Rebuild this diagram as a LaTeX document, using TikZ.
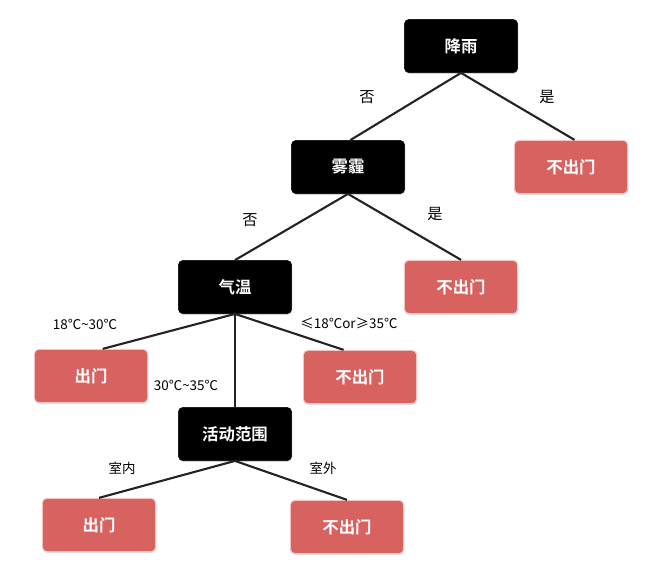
\documentclass[tikz,border=0pt]{standalone}
\usepackage{fontspec}
\setmainfont{Noto Sans CJK SC}
\newfontfamily\cjkbold{Noto Sans CJK SC Bold}
\usetikzlibrary{shadows}
\definecolor{leafred}{RGB}{216,98,96}
\definecolor{leafedge}{RGB}{244,196,194}
\definecolor{edgegray}{RGB}{35,35,35}
\tikzset{
  px/.style={x=0.03cm,y=-0.03cm},
  testbox/.style={rectangle, rounded corners=4pt, fill=black, draw=black,
    minimum width=3.4cm, minimum height=1.6cm, text=white,
    font=\cjkbold\fontsize{14}{16}\selectfont,
    drop shadow={shadow xshift=0.5pt, shadow yshift=-1pt, fill=black!30, opacity=0.6}},
  leafbox/.style={rectangle, rounded corners=4pt, fill=leafred, draw=leafedge, line width=0.8pt,
    minimum width=3.4cm, minimum height=1.6cm, text=white,
    font=\cjkbold\fontsize{14}{16}\selectfont,
    drop shadow={shadow xshift=0.5pt, shadow yshift=-1pt, fill=black!25, opacity=0.5}},
  branch/.style={draw=edgegray, line width=1.8pt},
  cond/.style={font=\fontsize{11.5}{13}\selectfont, text=black, inner sep=1pt},
  yesno/.style={font=\fontsize{13}{15}\selectfont, text=black, inner sep=1pt},
}
\begin{document}
\begin{tikzpicture}[px]
\useasboundingbox (0,0) rectangle (653,582);
% decision nodes and outcomes
\node[testbox] (rain) at (461,46) {降雨};
\node[leafbox] (rainyes) at (571,167) {不出门};
\node[testbox] (haze) at (348,167) {雾霾};
\node[leafbox] (hazeyes) at (461,287) {不出门};
\node[testbox] (temp) at (235,287) {气温};
\node[leafbox] (tempok) at (91,376) {出门};
\node[leafbox] (tempbad) at (360,377) {不出门};
\node[testbox] (range) at (235,434) {活动范围};
\node[leafbox] (indoor) at (99,525) {出门};
\node[leafbox] (outdoor) at (347,527) {不出门};
% branches
\draw[branch] (rain.south) -- ([xshift=2pt]haze.north);
\draw[branch] (rain.south) -- ([xshift=3pt]rainyes.north);
\draw[branch] (haze.south) -- (temp.north);
\draw[branch] (haze.south) -- (hazeyes.north);
\draw[branch] (temp.south) -- ([xshift=10pt]tempok.north);
\draw[branch] (temp.south) -- ([xshift=-14pt]tempbad.north);
\draw[branch] (temp.south) -- (range.north);
\draw[branch] (range.south) -- (indoor.north);
\draw[branch] (range.south) -- (outdoor.north);
% branch conditions
\node[yesno] (l1) at (367,97) {否};
\node[yesno] (l2) at (547,97) {是};
\node[yesno] (l3) at (250,220) {否};
\node[yesno] (l4) at (435,214) {是};
\node[cond] (l5) at (85,324) {18℃\textasciitilde30℃};
\node[cond] (l6) at (349,323) {≤18℃or≥35℃};
\node[cond] (l7) at (186,385) {30℃\textasciitilde35℃};
\node[cond] (l8) at (122,468) {室内};
\node[cond] (l9) at (323,468) {室外};
\end{tikzpicture}
\end{document}
